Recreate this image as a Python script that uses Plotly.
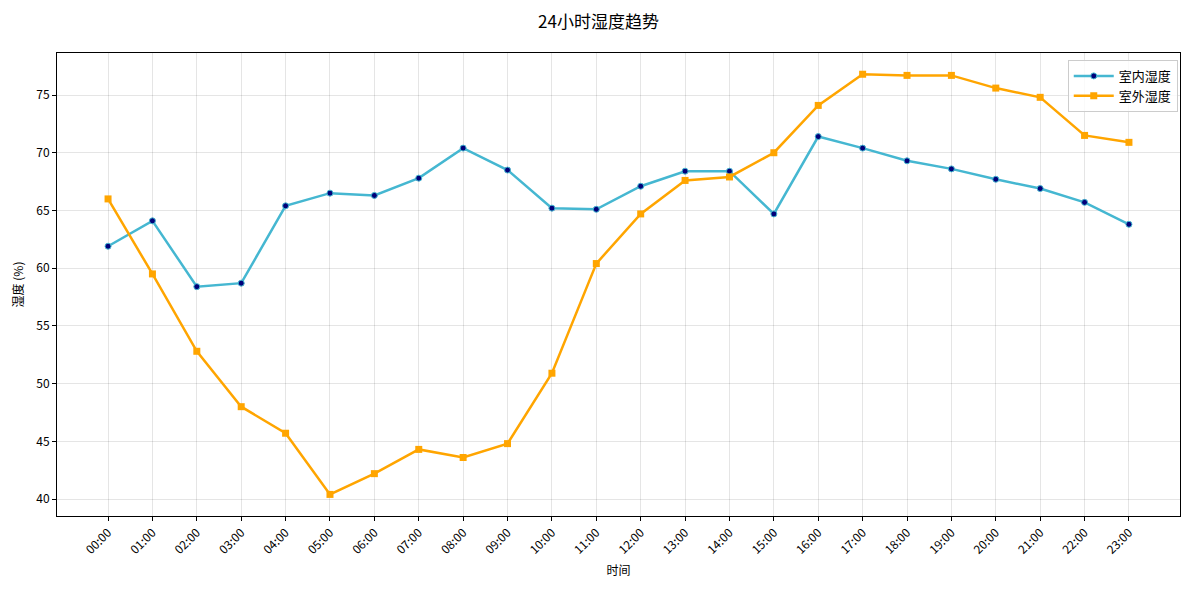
import plotly.graph_objects as go

hours = [f"{h:02d}:00" for h in range(24)]

indoor = [61.9, 64.1, 58.4, 58.7, 65.4, 66.5, 66.3, 67.8, 70.4, 68.5, 65.2, 65.1,
          67.1, 68.4, 68.4, 64.7, 71.4, 70.4, 69.3, 68.6, 67.7, 66.9, 65.7, 63.8]
outdoor = [66.0, 59.5, 52.8, 48.0, 45.7, 40.4, 42.2, 44.3, 43.6, 44.8, 50.9, 60.4,
           64.7, 67.6, 67.9, 70.0, 74.1, 76.8, 76.7, 76.7, 75.6, 74.8, 71.5, 70.9]

font_cjk = "Noto Sans CJK SC, DejaVu Sans, sans-serif"

fig = go.Figure()

# 室内湿度
fig.add_trace(go.Scatter(
    x=list(range(24)), y=indoor,
    mode="lines+markers",
    name="室内湿度",
    line=dict(color="#45B7D1", width=2.5),
    marker=dict(symbol="circle", size=6, color="#00007A",
                line=dict(color="#45B7D1", width=1)),
))

# 室外湿度
fig.add_trace(go.Scatter(
    x=list(range(24)), y=outdoor,
    mode="lines+markers",
    name="室外湿度",
    line=dict(color="#FFA500", width=2.5),
    marker=dict(symbol="square", size=7, color="#FFA500"),
))

axis_style = dict(
    showline=True, linecolor="black", linewidth=1, mirror=True,
    ticks="outside", ticklen=4, tickcolor="black",
    showgrid=True, gridcolor="rgba(0,0,0,0.1)", gridwidth=1,
    zeroline=False, automargin=False,
    tickfont=dict(family=font_cjk, size=12, color="black"),
)

fig.update_xaxes(
    **axis_style,
    tickmode="array", tickvals=list(range(24)), ticktext=hours,
    tickangle=-45, range=[-1.15, 24.15],
    title=dict(text="时间", font=dict(family=font_cjk, size=12, color="black"), standoff=10),
)
fig.update_yaxes(
    **axis_style,
    range=[38.53, 78.64], dtick=5,
    title=dict(text="湿度 (%)", font=dict(family=font_cjk, size=12, color="black"), standoff=10),
)

# page body has an 8px margin, so the figure is a bit smaller than the window
fig.update_layout(
    width=1181, height=582,
    margin=dict(l=49, r=9, t=45, b=74),
    paper_bgcolor="white", plot_bgcolor="white",
    title=dict(text="24小时湿度趋势", x=0.5, xanchor="center", y=0.976, yanchor="middle",
               font=dict(family=font_cjk, size=17, color="black")),
    legend=dict(x=0.998, y=0.985, xanchor="right", yanchor="top",
                bordercolor="#cccccc", borderwidth=1, bgcolor="rgba(255,255,255,0.8)",
                font=dict(family=font_cjk, size=13, color="black"),
                tracegroupgap=4, itemwidth=40),
    showlegend=True,
)

fig.write_html("out.html")
